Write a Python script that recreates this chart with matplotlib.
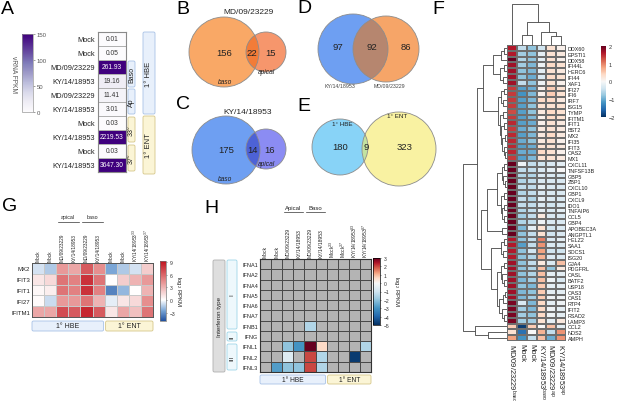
import numpy as np
import matplotlib
matplotlib.use('Agg')
import matplotlib.pyplot as plt
from matplotlib.patches import Circle, FancyBboxPatch
from matplotlib.colors import TwoSlopeNorm, Normalize, LinearSegmentedColormap
import matplotlib.cm as cm

plt.rcParams['font.family'] = ['Liberation Sans', 'DejaVu Sans']
plt.rcParams['mathtext.default'] = 'regular'

# ---------------- data ----------------
a_labels = ['Mock', 'Mock', 'MD/09/23229', 'KY/14/18953', 'MD/09/23229', 'KY/14/18953',
            'Mock', 'KY/14/18953', 'Mock', 'KY/14/18953']
a_values = [0.01, 0.05, 261.93, 19.16, 11.41, 3.01, 0.03, 2219.53, 0.03, 3647.30]
a_cbar_ticks = [0, 50, 100, 150]

venn_b_counts = [156, 22, 15]
venn_c_counts = [175, 14, 16]
venn_d_counts = [97, 92, 86]
venn_e_counts = [180, 9, 323]

f_genes = ['DDX60', 'EPSTI1', 'DDX58', 'IFI44L', 'HERC6', 'IFI44', 'XAF1', 'IFI27', 'IFI6', 'IRF7',
           'ISG15', 'TYMP', 'IFITM1', 'IFIT1', 'BST2', 'MX2', 'IFI35', 'IFIT3', 'OAS2', 'MX1',
           'CXCL11', 'TNFSF13B', 'GBP5', 'ZBP1', 'CXCL10', 'GBP1', 'CXCL9', 'IDO1', 'TNFAIP6', 'CCL5',
           'GBP4', 'APOBEC3A', 'ANGPTL1', 'HELZ2', 'SAA1', 'SOCS1', 'ISG20', 'GJA4', 'PDGFRL', 'OASL',
           'BATF2', 'USP18', 'OAS3', 'OAS1', 'RTP4', 'IFIT2', 'RSAD2', 'LAMP3', 'CCL2', 'NOS2', 'AMPH']
f_cols = ['MD/09/23229$^{baso}$', 'Mock', 'Mock', 'KY/14/18953$^{baso}$',
          'MD/09/23229$^{ap}$', 'KY/14/18953$^{ap}$']
f_values = [
    [1.6, -0.5, -0.8, -0.4, 0.3, 0.1],
    [1.6, -0.7, -0.8, -0.2, 0.3, 0.2],
    [2.0, -0.6, -0.8, -0.2, 0.3, 0.1],
    [1.7, -0.7, -0.9, -0.1, 0.4, 0.3],
    [1.7, -0.8, -0.9, -0.2, 0.3, 0.2],
    [1.7, -0.8, -1.0, -0.3, 0.4, 0.3],
    [1.7, -0.5, -0.8, -0.1, 0.3, 0.1],
    [1.4, -1.1, -1.0, 0.1, 0.5, 0.3],
    [1.4, -1.2, -0.9, 0.1, 0.5, 0.3],
    [1.4, -1.1, -0.9, 0.4, 0.4, 0.2],
    [1.4, -1.1, -0.8, 0.3, 0.3, 0.3],
    [1.3, -1.1, -0.8, 0.2, 0.4, 0.3],
    [1.4, -1.1, -0.9, 0.1, 0.4, 0.3],
    [1.5, -1.1, -1.0, 0.1, 0.3, 0.2],
    [1.4, -1.0, -0.8, 0.2, 0.3, 0.2],
    [1.5, -1.1, -0.9, 0.2, 0.4, 0.2],
    [1.5, -1.0, -0.8, 0.2, 0.3, 0.1],
    [1.5, -1.1, -1.0, 0.3, 0.3, 0.2],
    [1.5, -1.0, -1.0, 0.4, 0.3, 0.1],
    [1.4, -1.1, -0.9, 0.3, 0.3, 0.2],
    [2.2, -0.1, -0.5, -0.4, -0.3, -0.2],
    [2.2, -0.5, -0.5, -0.3, -0.2, 0.0],
    [2.2, -0.6, -0.6, -0.3, -0.3, -0.3],
    [2.2, -0.6, -0.5, -0.3, -0.3, -0.3],
    [2.2, -0.5, -0.5, -0.2, -0.3, -0.3],
    [2.2, -0.6, -0.5, -0.3, -0.3, -0.3],
    [2.2, -0.5, -0.6, -0.2, -0.3, -0.3],
    [2.2, -0.5, -0.5, -0.3, -0.4, -0.3],
    [2.2, -0.6, -0.5, -0.2, -0.3, -0.2],
    [2.2, -0.7, -0.5, 0.2, -0.3, -0.3],
    [2.2, -0.6, -0.5, -0.1, -0.3, -0.3],
    [2.0, -0.9, -0.2, 0.3, -0.4, -0.3],
    [2.0, -0.8, -0.5, 0.3, -0.4, -0.3],
    [1.6, -0.8, -0.5, 1.0, -0.3, -0.2],
    [1.6, -1.1, -0.5, 0.9, -0.3, -0.3],
    [1.6, -0.8, -0.4, 0.8, -0.4, -0.4],
    [1.6, -0.8, -0.6, 0.7, -0.3, -0.3],
    [1.7, -0.8, -0.5, 0.2, -0.3, 0.6],
    [1.7, -0.8, -0.6, 0.6, -0.8, 0.2],
    [1.7, -0.8, -0.6, 0.6, -0.2, -0.2],
    [1.7, -0.9, -0.7, 0.6, -0.1, -0.3],
    [1.7, -0.8, -0.9, 0.5, -0.2, -0.2],
    [1.7, -0.9, -0.8, 0.5, -0.2, -0.2],
    [1.7, -0.9, -0.7, 0.5, -0.1, -0.1],
    [1.9, -0.3, -0.9, 0.4, -0.2, -0.1],
    [1.9, -0.7, -0.9, 0.4, -0.1, -0.2],
    [1.9, -0.7, -0.8, 0.4, -0.1, -0.2],
    [1.9, -0.7, -0.7, 0.3, -0.2, 0.2],
    [0.5, -1.9, 0.5, 0.0, 0.6, -0.2],
    [0.3, -1.5, 0.0, 0.7, -0.5, 0.9],
    [0.8, -1.2, -0.5, 0.6, -1.0, 0.9],
]
# dendrograms: [height, left, right], leaves are row/column indices
f_col_tree = [41, 0, [23, [10, 1, 2], [13, 3, [9, 4, 5]]]]
f_row_tree = [44,
              [30,
               [24,
                [14, [6, [3, 0, 1], 2], [7, [3, 3, 4], [4, 5, 6]]],
                [9, [6, [3, 7, 8], [4, 9, 10]],
                 [7, [4, 11, 12], [6, [3, 13, 14], [5, [2, 15, 16], [3, 17, [2, 18, 19]]]]]]],
               [26,
                [20, [10, [5, [3, 20, 21], [4, 22, [2, 23, 24]]], [6, [3, 25, 26], [5, [3, 27, 28], [3, 29, 30]]]],
                 [5, 31, 32]],
                [16, [6, [3, 33, 34], [4, 35, 36]],
                 [10, [6, [3, 37, 38], [5, 39, [3, 40, 41]]], [8, [4, [2, 42, 43], 44], [5, 45, [3, 46, 47]]]]]]],
              [32, 48, [19, 49, 50]]]

g_genes = ['MX2', 'IFIT3', 'IFIT1', 'IFI27', 'IFITM1']
g_cols = ['Mock', 'Mock', 'MD/09/23229', 'KY/14/18953', 'MD/09/23229', 'KY/14/18953',
          'Mock', 'Mock', 'KY/14/18953$^{33}$', 'KY/14/18953$^{37}$']
g_values = [
    [-0.8, -1.5, 4.0, 3.5, 6.5, 4.5, -2.5, -1.5, -0.8, 2.0],
    [1.0, 1.5, 5.5, 5.0, 8.0, 5.5, 0.0, 2.0, 3.0, 4.0],
    [0.3, 0.7, 5.5, 5.0, 8.0, 5.0, -3.5, -2.0, 0.0, 3.0],
    [0.2, -1.0, 4.0, 4.0, 5.5, 3.0, -0.5, 1.0, 1.5, 4.5],
    [3.5, 3.5, 7.0, 6.5, 8.5, 6.5, 1.0, 3.5, 2.5, 5.5],
]
g_cbar_ticks = [-3, 0, 3, 6, 9]

n = np.nan
h_genes = ['IFNA1', 'IFNA2', 'IFNA4', 'IFNA5', 'IFNA6', 'IFNA7', 'IFNB1', 'IFNG', 'IFNL1', 'IFNL2', 'IFNL3']
h_cols = ['Mock', 'Mock', 'MD/09/23229', 'KY/14/18953', 'MD/09/23229', 'KY/14/18953',
          'Mock$^{33}$', 'Mock$^{37}$', 'KY/14/18953$^{33}$', 'KY/14/18953$^{37}$']
h_values = [
    [n, n, n, n, n, n, n, n, n, n],
    [n, n, n, n, n, n, n, n, n, n],
    [n, n, n, n, n, n, n, n, n, n],
    [n, n, n, n, n, n, n, n, n, n],
    [n, n, n, n, n, n, n, n, n, n],
    [n, n, n, n, n, n, n, n, n, n],
    [n, n, n, n, -1.5, n, n, n, n, n],
    [n, n, n, n, n, n, n, n, n, n],
    [n, n, -2.0, -3.0, 3.0, 0.6, n, n, n, -1.5],
    [n, n, -0.7, n, 2.0, -1.5, n, n, -4.8, n],
    [n, -2.8, -2.0, -2.0, 2.0, -1.5, n, n, n, n],
]
h_cbar_ticks = [-5, -4, -3, -2, -1, 0, 1, 2, 3]

# ---------------- layout ----------------
W, H = 617, 402
fig = plt.figure(figsize=(W / 100, H / 100), dpi=100)
ov = fig.add_axes([0, 0, 1, 1])
ov.set_xlim(0, W)
ov.set_ylim(H, 0)
ov.axis('off')
ov.set_facecolor('none')


def pax(x0, y0, x1, y1):
    return fig.add_axes([x0 / W, 1 - y1 / H, (x1 - x0) / W, (y1 - y0) / H])


HBE_FC, HBE_EC = '#e8f0fb', '#a8c2e6'
ENT_FC, ENT_EC = '#fbf5d6', '#d6c78a'
TXT = '#222222'


def rbox(x0, y0, x1, y1, fc, ec, text='', fs=5, rot=90, lw=0.6):
    ov.add_patch(FancyBboxPatch((x0, y0), x1 - x0, y1 - y0,
                                boxstyle='round,pad=0,rounding_size=1.5',
                                fc=fc, ec=ec, lw=lw))
    if text:
        ov.text((x0 + x1) / 2, (y0 + y1) / 2, text, rotation=rot, ha='center',
                va='center', fontsize=fs, color=TXT)


def letter(x, y, s):
    ov.text(x, y, s, fontsize=14, ha='left', va='top', color='black')


letter(1, 1, 'A')
letter(176, 1, 'B')
letter(176, 96, 'C')
letter(297, 0, 'D')
letter(297, 98, 'E')
letter(432, 1, 'F')
letter(2, 198, 'G')
letter(204, 200, 'H')

# ---------------- Panel A ----------------
axA = pax(98, 33, 126, 173)
va = np.array(a_values)[:, None]
axA.pcolormesh(va, cmap='Purples', vmin=0, vmax=150, edgecolors='#b0b0b0', linewidth=0.5)
axA.set_xlim(0, 1)
axA.set_ylim(len(a_values), 0)
axA.set_xticks([])
axA.set_yticks(np.arange(len(a_labels)) + 0.5, a_labels, fontsize=5.3, color=TXT)
axA.tick_params(length=0, pad=2)
for s in axA.spines.values():
    s.set_color('#8a8a8a')
    s.set_linewidth(0.8)
for i, v in enumerate(a_values):
    axA.text(0.5, i + 0.5, f'{v:.2f}', ha='center', va='center', fontsize=4.8,
             color='white' if v > 100 else '#333333')

caxA = pax(22, 35, 33, 113)
cbA = fig.colorbar(cm.ScalarMappable(norm=Normalize(0, 150), cmap='Purples'), cax=caxA)
cbA.set_ticks(a_cbar_ticks)
cbA.ax.tick_params(labelsize=4.3, length=1.5, width=0.4, pad=1, colors='#555555')
cbA.outline.set_linewidth(0.5)
cbA.outline.set_edgecolor('#999999')
ov.text(13, 74, 'vRNA FPKM', rotation=270, ha='center', va='center', fontsize=4.8, color='#555555')

rbox(128, 62, 135, 88, HBE_FC, HBE_EC, 'Baso', fs=5)
rbox(128, 90, 135, 115, HBE_FC, HBE_EC, 'Ap', fs=5)
rbox(143, 33, 155, 115, HBE_FC, HBE_EC, '1° HBE', fs=5.5)
rbox(128, 118, 135, 143, ENT_FC, ENT_EC, '33°', fs=5)
rbox(128, 146, 135, 172, ENT_FC, ENT_EC, '37°', fs=5)
rbox(143, 117, 155, 175, ENT_FC, ENT_EC, '1° ENT', fs=5.5)


# ---------------- Venn diagrams ----------------
def venn(ca, ra, cb, rb, colors, counts, tpos, ty):
    A = Circle(ca, ra, fc=colors[0], ec='none')
    ov.add_patch(A)
    B = Circle(cb, rb, fc=colors[1], ec='none')
    ov.add_patch(B)
    AB = Circle(cb, rb, fc=colors[2], ec='none')
    ov.add_patch(AB)
    AB.set_clip_path(A)
    ov.add_patch(Circle(ca, ra, fc='none', ec='#8c8c8c', lw=0.6))
    ov.add_patch(Circle(cb, rb, fc='none', ec='#8c8c8c', lw=0.6))
    for c, x in zip(counts, tpos):
        ov.text(x, ty, str(c), ha='center', va='center', fontsize=6.8, color='#222222')


venn((224, 53), 35, (266, 53), 20, ['#f9a866', '#f6966c', '#f27c38'], venn_b_counts, [224, 252, 271], 54)
ov.text(248, 12, 'MD/09/23229', ha='center', va='center', fontsize=6, color=TXT)
ov.text(225, 82, 'baso', ha='center', va='center', fontsize=4.8, style='italic', color=TXT)
ov.text(266, 72, 'apical', ha='center', va='center', fontsize=4.8, style='italic', color=TXT)

venn((226, 151), 34, (266, 150), 20, ['#6e9ff2', '#8b8cf3', '#4d62d6'], venn_c_counts, [226, 253, 270], 151)
ov.text(248, 113, 'KY/14/18953', ha='center', va='center', fontsize=6, color=TXT)
ov.text(225, 180, 'baso', ha='center', va='center', fontsize=4.8, style='italic', color=TXT)
ov.text(266, 165, 'apical', ha='center', va='center', fontsize=4.8, style='italic', color=TXT)

venn((353, 50), 35, (386, 50), 33, ['#6e9ff2', '#f6a568', '#b6866f'], venn_d_counts, [338, 372, 406], 48)
ov.text(340, 86, 'KY/14/18953', ha='center', va='center', fontsize=3.8, color='#444444')
ov.text(389, 86, 'MD/09/23229', ha='center', va='center', fontsize=3.8, color='#444444')

venn((340, 148), 28, (399, 150), 37, ['#88d3f7', '#f9f2a2', '#c3e2a0'], venn_e_counts, [340, 366, 405], 148)
ov.text(342, 125, '1° HBE', ha='center', va='center', fontsize=4.5, color=TXT)
ov.text(397, 117, '1° ENT', ha='center', va='center', fontsize=4.5, color=TXT)


# ---------------- Panel F ----------------
def draw_tree(ax, node, orient, color='#444444', lw=0.6):
    if isinstance(node, int):
        return node + 0.5, 0
    h, l, r = node
    pl, hl = draw_tree(ax, l, orient, color, lw)
    pr, hr = draw_tree(ax, r, orient, color, lw)
    if orient == 'left':
        ax.plot([hl, h, h, hr], [pl, pl, pr, pr], color=color, lw=lw, solid_capstyle='butt')
    else:
        ax.plot([pl, pl, pr, pr], [hl, h, h, hr], color=color, lw=lw, solid_capstyle='butt')
    return (pl + pr) / 2, h


fv = np.array(f_values)
axF = pax(507, 46, 566, 342)
axF.pcolormesh(fv, cmap='RdBu_r', vmin=-2, vmax=2, edgecolors='#6e6e6e', linewidth=0.3)
axF.set_xlim(0, fv.shape[1])
axF.set_ylim(fv.shape[0], 0)
axF.yaxis.tick_right()
axF.set_yticks(np.arange(len(f_genes)) + 0.5, f_genes, fontsize=3.9, color=TXT)
axF.set_xticks(np.arange(len(f_cols)) + 0.5, f_cols, rotation=270, fontsize=5.4, color=TXT)
axF.tick_params(length=0, pad=1.2)
for s in axF.spines.values():
    s.set_visible(False)

axFt = pax(507, 4, 566, 46)
draw_tree(axFt, f_col_tree, 'top')
axFt.set_xlim(0, fv.shape[1])
axFt.set_ylim(0, 42)
axFt.axis('off')

axFl = pax(462, 46, 507, 342)
draw_tree(axFl, f_row_tree, 'left')
axFl.set_ylim(fv.shape[0], 0)
axFl.set_xlim(45, 0)
axFl.axis('off')

caxF = pax(601, 47, 606, 118)
cbF = fig.colorbar(cm.ScalarMappable(norm=Normalize(-2, 2), cmap='RdBu_r'), cax=caxF)
cbF.set_ticks([-2, -1, 0, 1, 2])
cbF.ax.tick_params(labelsize=4, length=0, pad=2, colors='#333333')
cbF.outline.set_visible(False)

# ---------------- Panel G ----------------
gcmap = LinearSegmentedColormap.from_list('g', ['#1f4f9e', '#7aa6d6', '#ffffff', '#e58a8a', '#c0121d'])
gnorm = TwoSlopeNorm(vmin=-5, vcenter=0, vmax=9.3)
gv = np.array(g_values)
axG = pax(32, 264, 153, 318)
axG.pcolormesh(gv, cmap=gcmap, norm=gnorm, edgecolors='#c8c8c8', linewidth=0.4)
axG.set_xlim(0, gv.shape[1])
axG.set_ylim(gv.shape[0], 0)
axG.xaxis.tick_top()
axG.set_xticks(np.arange(len(g_cols)) + 0.5, g_cols, rotation=90, fontsize=3.4, color=TXT)
axG.set_yticks(np.arange(len(g_genes)) + 0.5, g_genes, fontsize=4.3, color=TXT)
axG.tick_params(length=0, pad=1.2)
for s in axG.spines.values():
    s.set_color('#555555')
    s.set_linewidth(0.7)

gcw = (153 - 32) / 10
for (c0, c1, lab) in [(2, 4, 'apical'), (4, 6, 'baso')]:
    ov.plot([32 + c0 * gcw + 1.5, 32 + c1 * gcw - 1.5], [223, 223], color='#333333', lw=0.5)
    ov.text(32 + (c0 + c1) / 2 * gcw, 220, lab, ha='center', va='bottom', fontsize=3.8, color=TXT)
rbox(32, 322, 32 + 6 * gcw - 1, 332, HBE_FC, HBE_EC, '1° HBE', fs=5, rot=0)
rbox(32 + 6 * gcw + 1, 322, 153, 332, ENT_FC, ENT_EC, '1° ENT', fs=5, rot=0)

caxG = pax(160, 262, 166, 322)
cbG = fig.colorbar(cm.ScalarMappable(norm=gnorm, cmap=gcmap), cax=caxG)
cbG.ax.set_yscale('linear')
cbG.set_ticks(g_cbar_ticks)
cbG.ax.tick_params(labelsize=3.6, length=1, width=0.4, pad=1.5, colors='#333333')
cbG.outline.set_linewidth(0.5)
cbG.outline.set_edgecolor('#777777')
ov.text(179, 292, 'log$_2$ RPKM', rotation=270, ha='center', va='center', fontsize=4.3, color=TXT)

# ---------------- Panel H ----------------
hcmap = plt.get_cmap('RdBu_r').copy()
hcmap.set_bad('#b4b4b4')
hnorm = TwoSlopeNorm(vmin=-5, vcenter=0, vmax=3)
hv = np.ma.masked_invalid(np.array(h_values))
axH = pax(260, 260, 371, 373)
axH.pcolormesh(hv, cmap=hcmap, norm=hnorm, edgecolors='#4a4a4a', linewidth=0.5)
axH.set_xlim(0, hv.shape[1])
axH.set_ylim(hv.shape[0], 0)
axH.xaxis.tick_top()
axH.set_xticks(np.arange(len(h_cols)) + 0.5, h_cols, rotation=90, fontsize=3.6, color=TXT)
axH.set_yticks(np.arange(len(h_genes)) + 0.5, h_genes, fontsize=4.0, color=TXT)
axH.tick_params(length=0, pad=1.5)
for s in axH.spines.values():
    s.set_color('#333333')
    s.set_linewidth(0.8)

hcw = (371 - 260) / 10
for (c0, c1, lab) in [(2, 4, 'Apical'), (4, 6, 'Baso')]:
    ov.plot([260 + c0 * hcw + 1.5, 260 + c1 * hcw - 1.5], [213, 213], color='#333333', lw=0.5)
    ov.text(260 + (c0 + c1) / 2 * hcw, 211, lab, ha='center', va='bottom', fontsize=4.3, color=TXT)
rbox(260, 376, 260 + 6 * hcw - 1, 385, HBE_FC, HBE_EC, '1° HBE', fs=4.8, rot=0)
rbox(260 + 6 * hcw + 1, 376, 371, 385, ENT_FC, ENT_EC, '1° ENT', fs=4.8, rot=0)

rbox(213, 261, 225, 373, '#dedede', '#b0b0b0', 'Interferon type', fs=4.5)
rbox(227, 261, 237, 330, '#eef8fc', '#9fd6e8', 'I', fs=4.5)
rbox(227, 333, 237, 342, '#eef8fc', '#9fd6e8', 'II', fs=4.5)
rbox(227, 345, 237, 371, '#eef8fc', '#9fd6e8', 'III', fs=4.5)

caxH = pax(373, 259, 380, 326)
cbH = fig.colorbar(cm.ScalarMappable(norm=hnorm, cmap='RdBu_r'), cax=caxH)
cbH.ax.set_yscale('linear')
cbH.set_ticks(h_cbar_ticks)
cbH.ax.tick_params(labelsize=3.6, length=1, width=0.4, pad=1.5, colors='#333333')
cbH.outline.set_linewidth(0.5)
ov.text(396, 292, 'log$_2$ RPKM', rotation=270, ha='center', va='center', fontsize=4.3, color=TXT)

fig.savefig('out.png', dpi=100)
